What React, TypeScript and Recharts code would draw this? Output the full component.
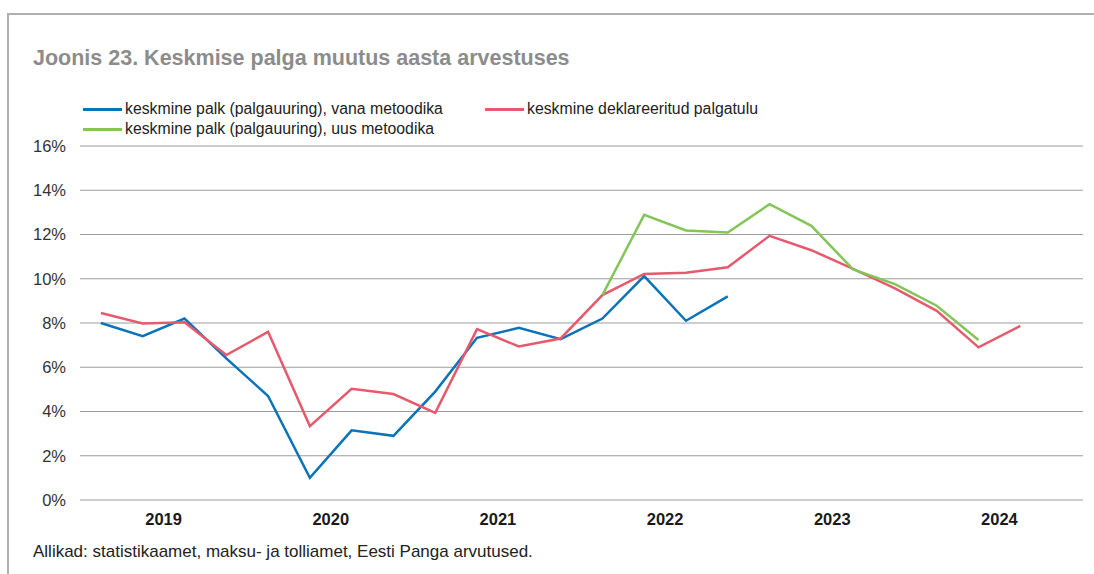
import React from 'react';
import { LineChart, Line, XAxis, YAxis, CartesianGrid } from 'recharts';

const years = ['2019', '2020', '2021', '2022', '2023', '2024'];
const quarters = ['I', 'II', 'III', 'IV'];

// keskmine palk (palgauuring), vana metoodika
const oldMethod = [
  8.0, 7.4, 8.2, 6.4,
  4.7, 1.0, 3.15, 2.9,
  4.9, 7.33, 7.78, 7.27,
  8.2, 10.12, 8.1, 9.2,
  null, null, null, null,
  null, null, null, null,
];

// keskmine deklareeritud palgatulu
const declared = [
  8.45, 7.98, 8.03, 6.55,
  7.6, 3.34, 5.03, 4.79,
  3.94, 7.72, 6.94, 7.3,
  9.26, 10.22, 10.27, 10.52,
  11.94, 11.29, 10.45, 9.56,
  8.55, 6.9, 7.87, null,
];

// keskmine palk (palgauuring), uus metoodika
const newMethod = [
  null, null, null, null,
  null, null, null, null,
  null, null, null, null,
  9.26, 12.89, 12.18, 12.09,
  13.37, 12.39, 10.42, 9.76,
  8.78, 7.23, null, null,
];

const yTicks = [0, 2, 4, 6, 8, 10, 12, 14, 16];

const BLUE = '#0b73b8';
const RED = '#e65a6e';
const GREEN = '#84c558';

const data = years.flatMap((y, yi) =>
  quarters.map((q, qi) => {
    const i = yi * 4 + qi;
    return {
      x: i + 0.5,
      label: `${y} ${q}`,
      oldMethod: oldMethod[i],
      declared: declared[i],
      newMethod: newMethod[i],
    };
  })
);

const boundaryTicks = [...years.map((_, i) => i * 4), years.length * 4];
const yearTicks = years.map((_, i) => i * 4 + 2);

const font = '"Liberation Sans", Arial, Helvetica, sans-serif';

const LegendItem = ({ color, text, left, top }: { color: string; text: string; left: number; top: number }) => (
  <div style={{ position: 'absolute', left, top, height: 20, display: 'flex', alignItems: 'center', whiteSpace: 'nowrap' }}>
    <span style={{ display: 'inline-block', width: 39, height: 3, background: color, marginRight: 3 }} />
    <span style={{ fontSize: 15.8, color: '#222' }}>{text}</span>
  </div>
);

export default function App() {
  return (
    <div
      style={{
        position: 'absolute',
        left: 7,
        top: 13,
        width: 1087,
        height: 561,
        borderLeft: '2px solid #b0b0b0',
        borderTop: '2px solid #b0b0b0',
        boxSizing: 'border-box',
        fontFamily: font,
        background: '#fff',
      }}
    >
      <div style={{ position: 'absolute', left: 24, top: 31, fontSize: 21.5, lineHeight: '24px', fontWeight: 'bold', color: '#8c8c8c', whiteSpace: 'nowrap' }}>
        Joonis 23. Keskmise palga muutus aasta arvestuses
      </div>

      <LegendItem color={BLUE} text="keskmine palk (palgauuring), vana metoodika" left={74} top={84} />
      <LegendItem color={RED} text="keskmine deklareeritud palgatulu" left={476} top={84} />
      <LegendItem color={GREEN} text="keskmine palk (palgauuring), uus metoodika" left={74} top={104} />

      <div style={{ position: 'absolute', left: 0, top: 0 }}>
        <LineChart width={1084} height={545} data={data} margin={{ top: 131, right: 10, bottom: 30, left: 0 }}>
          <CartesianGrid vertical={false} stroke="#9c9c9c" strokeWidth={1} />
          <XAxis
            dataKey="x"
            type="number"
            domain={[0, 24]}
            ticks={boundaryTicks}
            tick={false}
            tickSize={-6}
            height={0}
            stroke="#a0a0a0"
            axisLine={{ stroke: '#a0a0a0', strokeWidth: 2 }}
            tickLine={{ stroke: '#a0a0a0', strokeWidth: 1.5 }}
            interval={0}
          />
          <XAxis
            xAxisId="yr"
            dataKey="x"
            type="number"
            domain={[0, 24]}
            ticks={yearTicks}
            axisLine={false}
            tickLine={false}
            tickSize={0}
            tickMargin={13}
            height={30}
            interval={0}
            tickFormatter={(v: number) => years[(v - 2) / 4]}
            tick={{ fill: '#1a1a1a', fontSize: 16.5, fontWeight: 'bold', fontFamily: font }}
          />
          <YAxis
            domain={[0, 16]}
            ticks={yTicks}
            width={71}
            axisLine={false}
            tickLine={false}
            tickMargin={8}
            interval={0}
            tickFormatter={(v: number) => `${v}%`}
            tick={{ fill: '#333', fontSize: 16.5, fontFamily: font }}
          />
          <Line dataKey="oldMethod" stroke={BLUE} strokeWidth={2.5} dot={false} isAnimationActive={false} connectNulls={false} />
          <Line dataKey="declared" stroke={RED} strokeWidth={2.5} dot={false} isAnimationActive={false} connectNulls={false} />
          <Line dataKey="newMethod" stroke={GREEN} strokeWidth={2.5} dot={false} isAnimationActive={false} connectNulls={false} />
        </LineChart>
      </div>

      <div style={{ position: 'absolute', left: 24, top: 527, fontSize: 17, lineHeight: '20px', color: '#222', whiteSpace: 'nowrap' }}>
        Allikad: statistikaamet, maksu- ja tolliamet, Eesti Panga arvutused.
      </div>
    </div>
  );
}
